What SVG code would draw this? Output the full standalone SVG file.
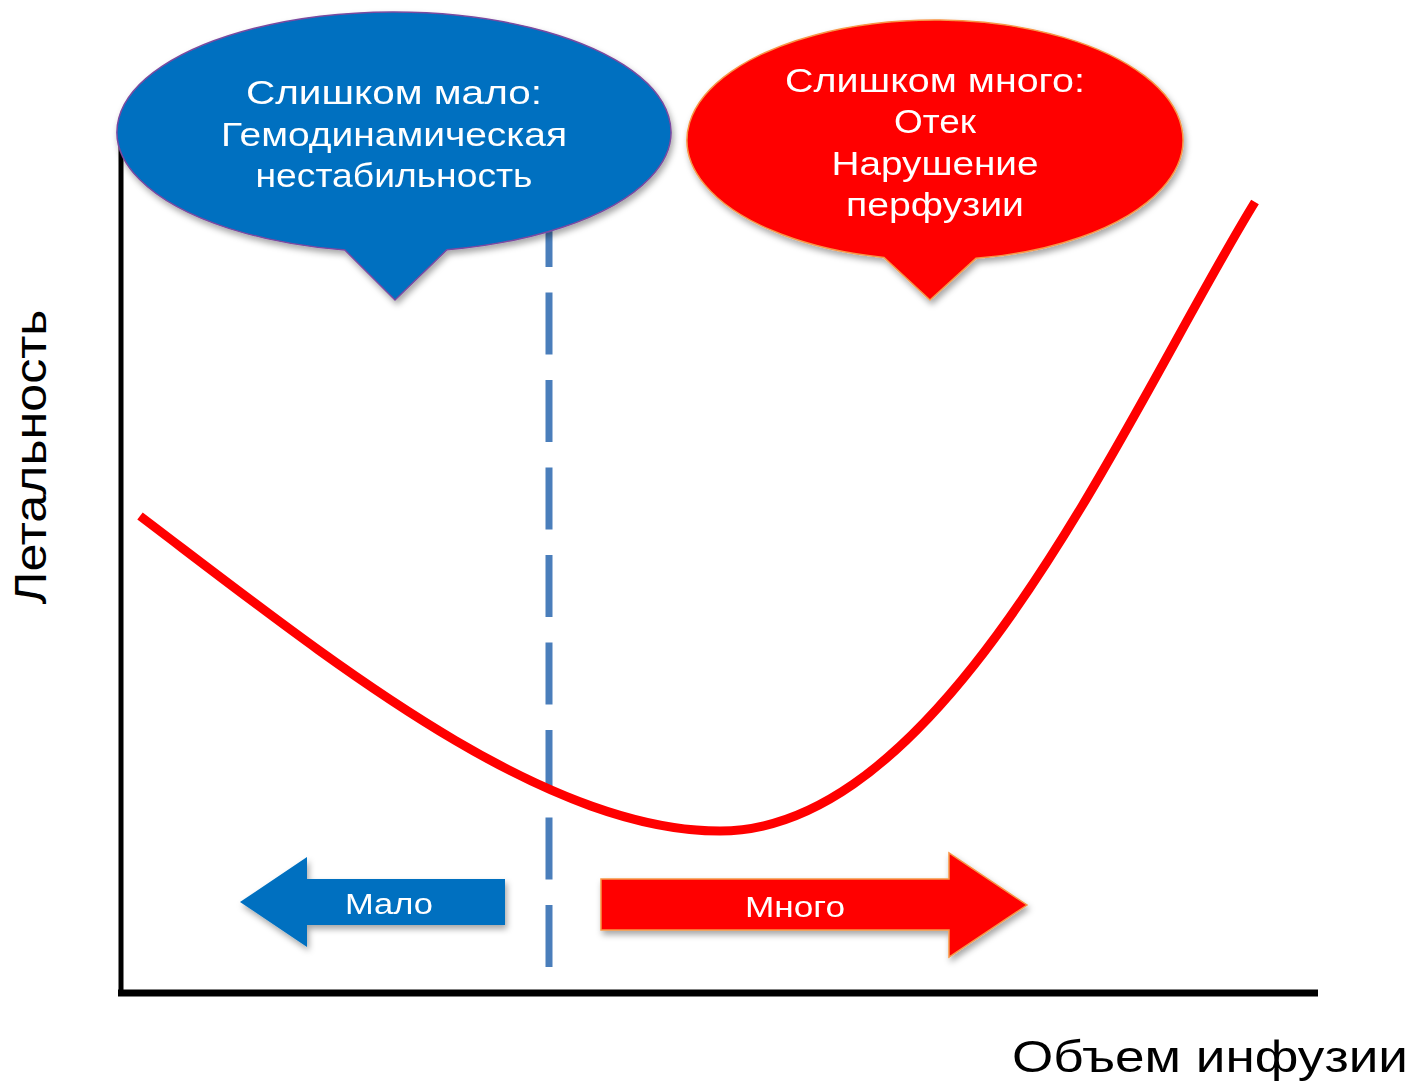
<svg xmlns="http://www.w3.org/2000/svg" width="1412" height="1083" viewBox="0 0 1412 1083">
<style>
.t{font-family:"Liberation Sans","DejaVu Sans",sans-serif;text-anchor:middle;fill:#fff}
.ax{font-family:"Liberation Sans","DejaVu Sans",sans-serif;fill:#000;font-size:44px}
</style>
<defs>
<filter id="sh" x="-10%" y="-10%" width="120%" height="130%">
<feDropShadow dx="2" dy="4" stdDeviation="3" flood-color="#000" flood-opacity="0.35"/>
</filter>
</defs>
<rect width="1412" height="1083" fill="#fff"/>
<g id="axes">
<line x1="121" y1="140" x2="121" y2="996" stroke="#000" stroke-width="5"/>
<line x1="118" y1="993" x2="1318" y2="993" stroke="#000" stroke-width="7"/>
</g>
<g id="connectors">
<line x1="549" y1="205" x2="549" y2="970" stroke="#4a7ebb" stroke-width="7" stroke-dasharray="62 25.5"/>
<path d="M140,516 C330,660 540,831 720,831 C950,831 1130,405 1255,202" fill="none" stroke="#ff0000" stroke-width="9"/>
</g>
<g id="callout-low" filter="url(#sh)">
<path d="M345,250.11 A277,120 0 1 1 447,249.78 L395,300 Z" fill="#0070c0" stroke="#7a4aa0" stroke-width="1.5"/>
<text class="t" font-size="34"><tspan x="394" y="104" textLength="296" lengthAdjust="spacingAndGlyphs">Слишком  мало:</tspan><tspan x="394" y="146" textLength="346" lengthAdjust="spacingAndGlyphs">Гемодинамическая</tspan><tspan x="394" y="187" textLength="277" lengthAdjust="spacingAndGlyphs">нестабильность</tspan></text>
</g>
<g id="callout-high" filter="url(#sh)">
<path d="M884,257.44 A248,120 0 1 1 976,258.35 L930,300 Z" fill="#ff0000" stroke="#f79646" stroke-width="1.5"/>
<text class="t" font-size="34"><tspan x="935" y="92" textLength="300" lengthAdjust="spacingAndGlyphs">Слишком много:</tspan><tspan x="935" y="133" textLength="82" lengthAdjust="spacingAndGlyphs">Отек</tspan><tspan x="935" y="175" textLength="207" lengthAdjust="spacingAndGlyphs">Нарушение</tspan><tspan x="935" y="216" textLength="178" lengthAdjust="spacingAndGlyphs">перфузии</tspan></text>
</g>
<g id="arrow-low" filter="url(#sh)">
<path d="M240,902 L307,857 L307,879 L505,879 L505,925 L307,925 L307,947 Z" fill="#0070c0"/>
<text class="t" font-size="30" x="389" y="914" textLength="88" lengthAdjust="spacingAndGlyphs">Мало</text>
</g>
<g id="arrow-high" filter="url(#sh)">
<path d="M601,879 L949,879 L949,853 L1027,905 L949,957 L949,930 L601,930 Z" fill="#ff0000" stroke="#f79646" stroke-width="1.5"/>
<text class="t" font-size="30" x="795" y="917" textLength="100" lengthAdjust="spacingAndGlyphs">Много</text>
</g>
<g id="labels">
<text class="ax" transform="translate(46,457) rotate(-90)" text-anchor="middle" textLength="295" lengthAdjust="spacingAndGlyphs">Летальность</text>
<text class="ax" x="1408" y="1072" text-anchor="end" textLength="396" lengthAdjust="spacingAndGlyphs">Объем инфузии</text>
</g>
</svg>
